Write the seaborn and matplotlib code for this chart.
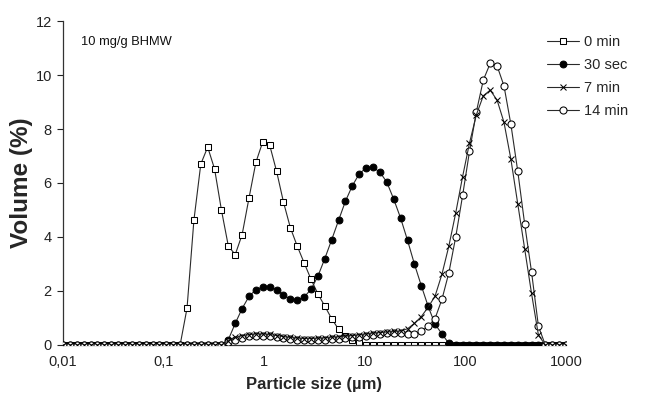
import matplotlib
matplotlib.use("Agg")
import matplotlib.pyplot as plt
from matplotlib.ticker import NullLocator
import seaborn as sns
import pandas as pd

# particle size classes (µm)
size_um = [
    0.01, 0.01171, 0.01371, 0.01605, 0.01879, 0.02200, 0.02576, 0.03016, 0.03532, 0.04135,
    0.04842, 0.05669, 0.06637, 0.07771, 0.09099, 0.1065, 0.1247, 0.1460, 0.1710, 0.2002,
    0.2344, 0.2744, 0.3213, 0.3762, 0.4405, 0.5157, 0.6038, 0.7070, 0.8278, 0.9690,
    1.135, 1.329, 1.556, 1.822, 2.133, 2.497, 2.924, 3.422, 4.006, 4.691,
    5.492, 6.431, 7.529, 8.815, 10.32, 12.08, 14.15, 16.57, 19.40, 22.71,
    26.59, 31.13, 36.44, 42.67, 49.95, 58.49, 68.48, 80.17, 93.89, 109.9,
    128.7, 150.7, 176.5, 206.6, 241.9, 283.2, 331.6, 388.2, 454.5, 532.1,
    623.0, 729.5, 854.1, 1000.0,
]

vol_0min = [
    0, 0, 0, 0, 0, 0, 0, 0, 0, 0, 0, 0, 0, 0, 0, 0, 0, 0,
    1.36, 4.62, 6.70, 7.33, 6.52, 4.99, 3.66, 3.35, 4.09, 5.45,
    6.77, 7.53, 7.40, 6.43, 5.29, 4.34, 3.66, 3.04, 2.43, 1.89,
    1.44, 0.97, 0.58, 0.33, 0.18, 0.06,
    0, 0, 0, 0, 0, 0, 0, 0, 0, 0, 0, 0, 0, 0, 0,
    0, 0, 0, 0, 0, 0, 0, 0, 0, 0, 0, 0, 0, 0, 0,
]

vol_30sec = [
    0, 0, 0, 0, 0, 0, 0, 0, 0, 0, 0, 0, 0, 0, 0, 0, 0, 0, 0, 0, 0, 0, 0, 0,
    0.20, 0.80, 1.35, 1.80, 2.05, 2.15, 2.15, 2.05, 1.85, 1.70,
    1.66, 1.78, 2.06, 2.55, 3.20, 3.90, 4.62, 5.33, 5.90, 6.34,
    6.56, 6.58, 6.40, 6.03, 5.40, 4.70, 3.88, 3.00, 2.20, 1.43,
    0.77, 0.41, 0.06,
    0, 0, 0, 0, 0, 0, 0, 0, 0, 0, 0, 0, 0, 0, 0, 0, 0,
]

vol_7min = [
    0, 0, 0, 0, 0, 0, 0, 0, 0, 0, 0, 0, 0, 0, 0, 0, 0, 0, 0, 0, 0, 0, 0, 0,
    0.15, 0.28, 0.35, 0.38, 0.41, 0.41, 0.39, 0.35, 0.31, 0.28,
    0.26, 0.24, 0.24, 0.25, 0.27, 0.29, 0.31, 0.33, 0.35, 0.38,
    0.41, 0.44, 0.46, 0.48, 0.50, 0.52, 0.60, 0.80, 1.05, 1.40,
    1.81, 2.62, 3.66, 4.89, 6.24, 7.48, 8.53, 9.23, 9.44, 9.07,
    8.25, 6.89, 5.23, 3.57, 1.91, 0.37,
    0, 0, 0, 0,
]

vol_14min = [
    0, 0, 0, 0, 0, 0, 0, 0, 0, 0, 0, 0, 0, 0, 0, 0, 0, 0, 0, 0, 0, 0, 0, 0,
    0.10, 0.20, 0.27, 0.32, 0.34, 0.34, 0.32, 0.29, 0.25, 0.21,
    0.19, 0.18, 0.18, 0.19, 0.20, 0.22, 0.24, 0.26, 0.28, 0.31,
    0.34, 0.38, 0.41, 0.44, 0.46, 0.44, 0.40, 0.40, 0.50, 0.70,
    0.98, 1.69, 2.67, 4.00, 5.54, 7.17, 8.64, 9.81, 10.43, 10.34,
    9.60, 8.18, 6.44, 4.49, 2.71, 0.70,
    0, 0, 0, 0,
]

series_labels = ["0 min", "30 sec", "7 min", "14 min"]
xtick_values = [0.01, 0.1, 1, 10, 100, 1000]
xtick_labels = ["0,01", "0,1", "1", "10", "100", "1000"]
ytick_values = [0, 2, 4, 6, 8, 10, 12]
annotation = "10 mg/g BHMW"

sns.set_theme(style="ticks")
plt.rcParams["font.family"] = ["Liberation Sans", "DejaVu Sans"]

fig = plt.figure(figsize=(6.54, 4.01), dpi=100)
ax = fig.add_axes([0.0963, 0.1397, 0.7691, 0.8079])

df = pd.DataFrame({
    "size": size_um,
    series_labels[0]: vol_0min,
    series_labels[1]: vol_30sec,
    series_labels[2]: vol_7min,
    series_labels[3]: vol_14min,
})

line_col = "#2a2a2a"
common = dict(color=line_col, linewidth=0.8, markeredgewidth=0.75, markeredgecolor="black")
styles = {
    "0 min": dict(marker="s", markerfacecolor="white", markersize=4.8, zorder=2),
    "30 sec": dict(marker="o", markerfacecolor="black", markersize=4.9, zorder=3),
    "7 min": dict(marker="x", markersize=5.0, zorder=5),
    "14 min": dict(marker="o", markerfacecolor="white", markersize=5.1, zorder=4),
}

for lab in series_labels:
    sns.lineplot(data=df, x="size", y=lab, ax=ax, label=lab, sort=False,
                 estimator=None, **common, **styles[lab])

ax.set_xscale("log")
ax.set_xlim(0.01, 1000)
ax.set_ylim(0, 12)
ax.set_xticks(xtick_values, labels=xtick_labels)
ax.xaxis.set_minor_locator(NullLocator())
ax.set_yticks(ytick_values)
ax.tick_params(axis="x", length=0, pad=7, labelsize=10.5, colors="#222222")
ax.tick_params(axis="y", length=4, width=0.8, pad=4, labelsize=10.5, colors="#222222")
for s in ["top", "right"]:
    ax.spines[s].set_visible(False)
for s in ["left", "bottom"]:
    ax.spines[s].set_linewidth(0.9)
    ax.spines[s].set_color("#333333")

ax.set_xlabel("Particle size (µm)", fontsize=12, fontweight="bold", labelpad=6)
ax.set_ylabel("Volume (%)", fontsize=17.5, fontweight="bold", labelpad=1.5)

ax.text(0.036, 0.935, annotation, transform=ax.transAxes, fontsize=9.3,
        va="center", ha="left", color="#111111")

ax.legend(loc="upper left", bbox_to_anchor=(0.962, 0.957), frameon=False,
          fontsize=10.5, handlelength=2.2, handletextpad=0.35, labelspacing=0.62,
          borderpad=0, borderaxespad=0, numpoints=1)

fig.savefig("out.png", dpi=100)
